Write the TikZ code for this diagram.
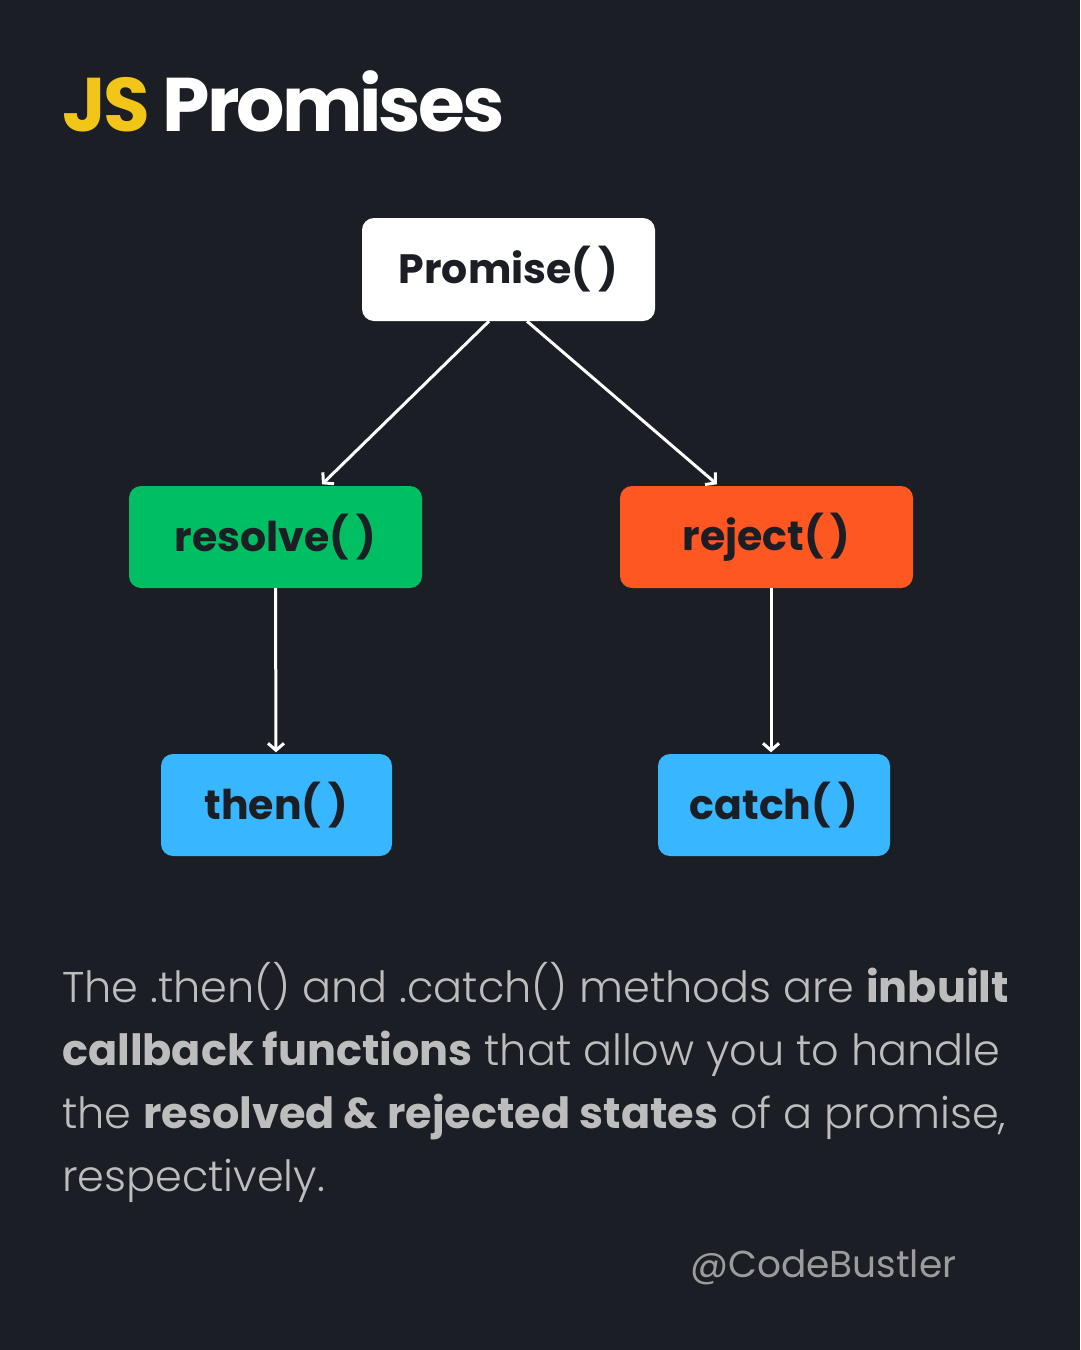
\documentclass[tikz,border=0pt]{standalone}
\usepackage{fontspec}
\setmainfont{Poppins}[BoldFont=* Bold]
\newfontfamily\poplight{Poppins Light}[BoldFont=Poppins Bold]
\newfontfamily\titlefont{Poppins Bold}[LetterSpace=-4]
\newfontfamily\handlefont{Poppins}
\usetikzlibrary{arrows.meta,calc}
\definecolor{bg}{HTML}{1B1E24}
\definecolor{jsyellow}{HTML}{F2C618}
\definecolor{boxgreen}{HTML}{00BF63}
\definecolor{boxorange}{HTML}{FF5722}
\definecolor{boxblue}{HTML}{38B6FF}
\definecolor{boxtext}{HTML}{1B1E24}
\definecolor{bodygray}{HTML}{BDBDBD}
\definecolor{handlegray}{HTML}{9C9C9C}
\newcommand{\parens}{(\hspace{0.18em})}
\tikzset{
  stepbox/.style={rounded corners=12pt, minimum height=102pt, inner sep=0pt,
    text=boxtext, font=\fontsize{41}{48}\selectfont\bfseries},
  flow/.style={draw=white, line width=3pt, -{Straight Barb[length=7pt,width=16pt,line width=3pt]}}
}
\begin{document}
\begin{tikzpicture}[x=1pt,y=-1pt]
\fill[bg] (0,0) rectangle (1080,1350);
\useasboundingbox (0,0) rectangle (1080,1350);

\node[anchor=base west, inner sep=0pt, font=\titlefont\fontsize{76}{96}\selectfont] (title) at (62,131)
  {\textcolor{jsyellow}{JS} \textcolor{white}{Promises}};

\node[stepbox, fill=white, minimum width=293pt, minimum height=103pt] (P) at (508.5,269.5) {Promise\parens};
\node[stepbox, fill=boxgreen, minimum width=293pt] (R) at (275.5,537) {resolve\parens};
\node[stepbox, fill=boxorange, minimum width=293pt] (J) at (766.5,537) {reject\parens};
\node[stepbox, fill=boxblue, minimum width=231pt] (T) at (276.5,805) {then\parens};
\node[stepbox, fill=boxblue, minimum width=232pt] (C) at (774,805) {catch\parens};

\draw[flow] ($(P.south)+(-19.5,0)$) -- ($(R.north)+(46.5,-1.5)$);
\draw[flow] ($(P.south)+(18.5,0)$) -- ($(J.north)+(-49.5,-1.5)$);
\draw[flow] (R.south) -- ($(T.north)+(-0.5,-1.5)$);
\draw[flow] ($(J.south)+(4.5,0)$) -- ($(C.north)+(-3,-1.5)$);

\node[anchor=base west, inner sep=0pt, align=left, text=bodygray,
  font=\poplight\fontsize{43}{63}\selectfont] (body) at (62,1191)
  {The .then() and .catch() methods are \textbf{inbuilt}\\
   \textbf{callback functions} that allow you to handle\\
   the \textbf{resolved \& rejected states} of a promise,\\
   respectively.};

\node[anchor=base west, inner sep=0pt, text=handlegray,
  font=\handlefont\fontsize{37.5}{44}\selectfont] (handle) at (690,1277) {@CodeBustler};
\end{tikzpicture}
\end{document}
